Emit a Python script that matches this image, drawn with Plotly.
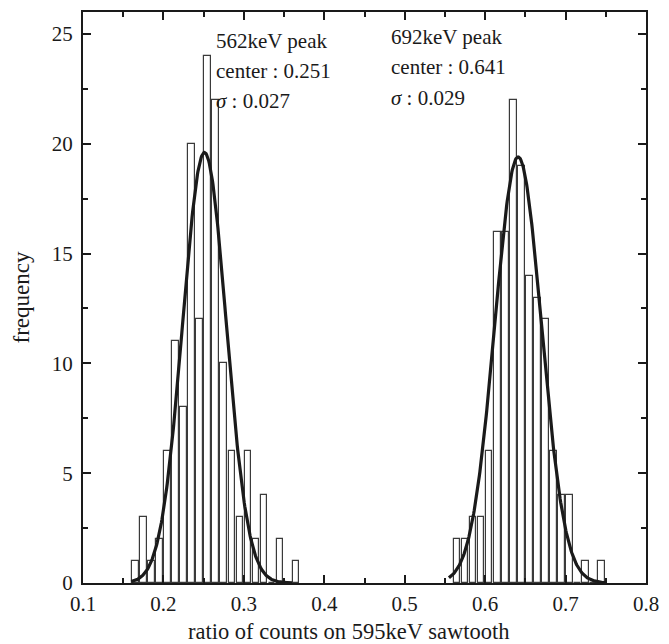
import numpy as np
import plotly.graph_objects as go

# ---- data ----
bin_width = 0.01
left_centers = [0.165, 0.175, 0.185, 0.195, 0.205, 0.215, 0.225, 0.235, 0.245, 0.255,
                0.265, 0.275, 0.285, 0.295, 0.305, 0.315, 0.325, 0.335, 0.345, 0.355, 0.365]
left_counts = [1, 3, 1, 2, 6, 11, 8, 20, 12, 24,
               22, 10, 6, 3, 6, 2, 4, 0, 2, 0, 1]

right_centers = [0.565, 0.575, 0.585, 0.595, 0.605, 0.615, 0.625, 0.635, 0.645, 0.655,
                 0.665, 0.675, 0.685, 0.695, 0.705, 0.715, 0.725, 0.735, 0.745]
right_counts = [2, 2, 3, 3, 6, 16, 16, 22, 19, 14,
                13, 12, 6, 4, 4, 0, 1, 0, 1]

# Gaussian fit parameters (as annotated in the chart)
fit_left = dict(center=0.251, sigma=0.027, amp=19.6, lo=0.16, hi=0.36)
fit_right = dict(center=0.641, sigma=0.029, amp=19.4, lo=0.555, hi=0.75)

x_ticks = [0.1, 0.2, 0.3, 0.4, 0.5, 0.6, 0.7, 0.8]
y_ticks = [0, 5, 10, 15, 20, 25]

FONT = "Liberation Serif, Times New Roman, serif"
INK = "#1a1a1a"

fig = go.Figure()

for cx, cy in ((left_centers, left_counts), (right_centers, right_counts)):
    fig.add_trace(go.Bar(
        x=cx, y=cy, width=0.0082,
        marker=dict(color="white", line=dict(color="#3a3a3a", width=1.2)),
        showlegend=False, hoverinfo="x+y",
    ))

for f in (fit_left, fit_right):
    xs = np.linspace(f["lo"], f["hi"], 300)
    ys = f["amp"] * np.exp(-0.5 * ((xs - f["center"]) / f["sigma"]) ** 2)
    fig.add_trace(go.Scatter(x=xs, y=ys, mode="lines",
                             line=dict(color=INK, width=3.2),
                             showlegend=False, hoverinfo="skip"))

ann_font = dict(family=FONT, size=21, color=INK)
texts = [
    (0.263, 24.7, "562keV peak"),
    (0.263, 23.3, "center : 0.251"),
    (0.263, 21.96, "<i>σ</i> : 0.027"),
    (0.481, 24.85, "692keV peak"),
    (0.481, 23.5, "center : 0.641"),
    (0.481, 22.1, "<i>σ</i> : 0.029"),
]
for x, y, t in texts:
    fig.add_annotation(x=x, y=y, text=t, showarrow=False, xanchor="left",
                       yanchor="middle", font=ann_font)

# x-axis title (placed slightly left of the plot centre, as in the reference)
fig.add_annotation(x=0.471, y=0, xref="paper", yref="paper", yshift=-48,
                   text="ratio of counts on 595keV sawtooth", showarrow=False,
                   xanchor="center", yanchor="middle",
                   font=dict(family=FONT, size=22.5, color=INK))

axis_common = dict(
    showline=True, linecolor=INK, linewidth=2, mirror="allticks",
    ticks="inside", ticklen=8, tickwidth=2, tickcolor=INK,
    showgrid=False, zeroline=False,
    tickfont=dict(family=FONT, size=21, color=INK),
)

fig.update_xaxes(range=[0.1, 0.8], tickvals=x_ticks,
                 ticktext=[f"{v:.1f}" for v in x_ticks],
                 ticklabelstandoff=1,
                 minor=dict(dtick=0.05, tick0=0.1, ticks="inside", ticklen=5,
                            tickwidth=1.5, tickcolor=INK),
                 **axis_common)
fig.update_yaxes(range=[0, 26], tickvals=y_ticks,
                 ticklabelstandoff=4,
                 minor=dict(dtick=2.5, tick0=0, ticks="inside", ticklen=5,
                            tickwidth=1.5, tickcolor=INK),
                 title=dict(text="frequency",
                            font=dict(family=FONT, size=23, color=INK),
                            standoff=16),
                 **axis_common)

fig.update_layout(
    width=669, height=644,
    margin=dict(l=83, r=17, t=10, b=61),
    plot_bgcolor="white", paper_bgcolor="white",
    barmode="overlay", bargap=0,
)

fig.write_html("out.html")
